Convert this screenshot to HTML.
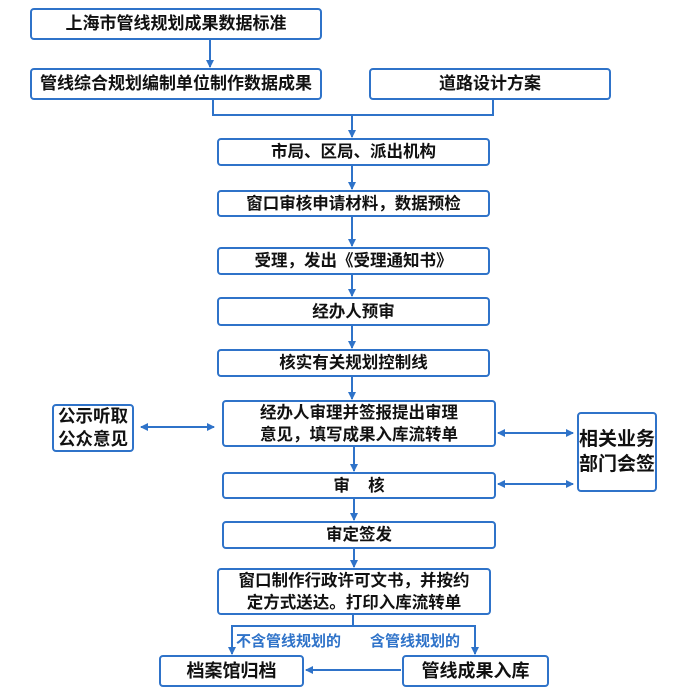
<!DOCTYPE html>
<html><head><meta charset="utf-8"><style>
body{margin:0;width:682px;height:690px;background:#fff;position:relative;overflow:hidden;font-family:"Liberation Sans","Noto Sans CJK SC",sans-serif;}
.b{position:absolute;box-sizing:border-box;border:2.5px solid #2f73c9;border-radius:4px;background:#fff;display:flex;align-items:center;justify-content:center;text-align:center;font-weight:bold;font-size:16.5px;line-height:20px;color:#111;white-space:nowrap;}
.l{position:absolute;color:#2f73c9;font-weight:bold;font-size:15px;}
svg{position:absolute;left:0;top:0;}
</style></head><body>
<svg width="682" height="690">
<defs><marker id="a" markerWidth="8" markerHeight="8" refX="7" refY="4" orient="auto" markerUnits="userSpaceOnUse"><path d="M0,0 L8,4 L0,8 z" fill="#2f73c9"/></marker>
<marker id="s" markerWidth="8" markerHeight="8" refX="1" refY="4" orient="auto" markerUnits="userSpaceOnUse"><path d="M8,0 L0,4 L8,8 z" fill="#2f73c9"/></marker></defs>
<g stroke="#2f73c9" stroke-width="2" fill="none">
<line x1="210" y1="40" x2="210" y2="67" marker-end="url(#a)"/>
<polyline points="213,100 213,115 493,115 493,100"/>
<line x1="352" y1="115" x2="352" y2="137" marker-end="url(#a)"/>
<line x1="352" y1="166" x2="352" y2="189" marker-end="url(#a)"/>
<line x1="352" y1="217" x2="352" y2="246" marker-end="url(#a)"/>
<line x1="352" y1="275" x2="352" y2="296" marker-end="url(#a)"/>
<line x1="352" y1="326" x2="352" y2="348" marker-end="url(#a)"/>
<line x1="352" y1="377" x2="352" y2="399" marker-end="url(#a)"/>
<line x1="354" y1="446" x2="354" y2="471" marker-end="url(#a)"/>
<line x1="354" y1="498" x2="354" y2="520" marker-end="url(#a)"/>
<line x1="354" y1="548" x2="354" y2="567" marker-end="url(#a)"/>
<polyline points="353,614 353,626"/>
<polyline points="232,654 232,626 475,626 475,654" marker-start="url(#s)" marker-end="url(#a)"/>
<line x1="141" y1="427" x2="214" y2="427" marker-start="url(#s)" marker-end="url(#a)"/>
<line x1="498" y1="433" x2="573" y2="433" marker-start="url(#s)" marker-end="url(#a)"/>
<line x1="498" y1="484" x2="573" y2="484" marker-start="url(#s)" marker-end="url(#a)"/>
<line x1="401" y1="670" x2="306" y2="670" marker-end="url(#a)"/>
</g></svg>
<div class="b" style="left:30px;top:8px;width:292px;height:32px;font-size:17px">上海市管线规划成果数据标准</div>
<div class="b" style="left:30px;top:68px;width:292px;height:32px;font-size:17px">管线综合规划编制单位制作数据成果</div>
<div class="b" style="left:369px;top:68px;width:242px;height:32px;font-size:17px">道路设计方案</div>
<div class="b" style="left:217px;top:138px;width:273px;height:28px">市局、区局、派出机构</div>
<div class="b" style="left:217px;top:190px;width:273px;height:27px">窗口审核申请材料，数据预检</div>
<div class="b" style="left:217px;top:247px;width:273px;height:28px">受理，发出《受理通知书》</div>
<div class="b" style="left:217px;top:297px;width:273px;height:29px">经办人预审</div>
<div class="b" style="left:217px;top:349px;width:273px;height:28px">核实有关规划控制线</div>
<div class="b" style="left:222px;top:400px;width:274px;height:47px;line-height:22px">经办人审理并签报提出审理<br>意见，填写成果入库流转单</div>
<div class="b" style="left:52px;top:404px;width:82px;height:48px;font-size:17.5px;line-height:23px">公示听取<br>公众意见</div>
<div class="b" style="left:577px;top:412px;width:80px;height:80px;font-size:19px;line-height:25px">相关业务<br>部门会签</div>
<div class="b" style="left:222px;top:472px;width:274px;height:27px">审&nbsp;&nbsp;&nbsp;&nbsp;核</div>
<div class="b" style="left:222px;top:521px;width:274px;height:28px">审定签发</div>
<div class="b" style="left:217px;top:568px;width:274px;height:47px;line-height:22px">窗口制作行政许可文书，并按约<br>定方式送达。打印入库流转单</div>
<div class="l" style="left:236px;top:630px">不含管线规划的</div>
<div class="l" style="left:370px;top:630px">含管线规划的</div>
<div class="b" style="left:159px;top:655px;width:145px;height:32px;font-size:18px">档案馆归档</div>
<div class="b" style="left:402px;top:655px;width:147px;height:32px;font-size:18px">管线成果入库</div>
</body></html>
